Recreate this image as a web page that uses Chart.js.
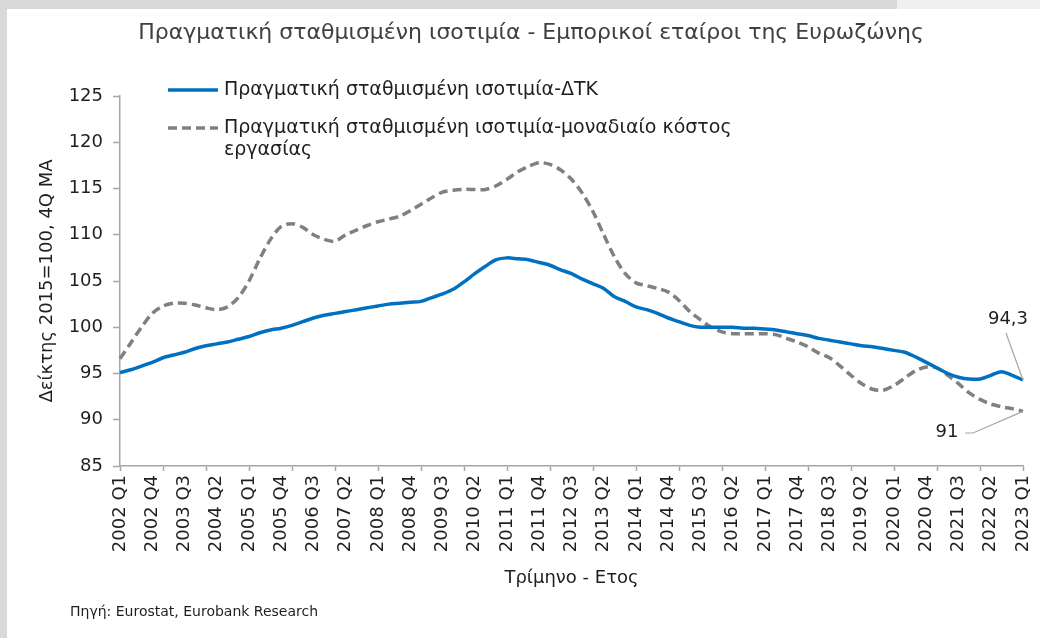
<!DOCTYPE html>
<html lang="el">
<head>
<meta charset="utf-8">
<title>Πραγματική σταθμισμένη ισοτιμία - Εμπορικοί εταίροι της Ευρωζώνης</title>
<script src="https://cdn.jsdelivr.net/npm/chart.js@4.4.1/dist/chart.umd.min.js"></script>
<style>
  html, body { margin: 0; padding: 0; background: #d9d9d9; }
  #wrap { position: relative; width: 1040px; height: 638px; }
</style>
</head>
<body>
<div id="wrap"><canvas id="reerChart" width="1040" height="638"></canvas></div>
<script>
// quarters 2002 Q1 .. 2023 Q1
const firstYear = 2002;
const lastYear = 2023;
const quarters = ['Q1', 'Q2', 'Q3', 'Q4'];
const categories = [];
for (let y = firstYear; y <= lastYear; y++) {
    for (const q of quarters) {
        if (y === lastYear && q !== 'Q1') break;
        categories.push(y + ' ' + q);
    }
}

const seriesNames = [
    'Πραγματική σταθμισμένη ισοτιμία-ΔΤΚ',
    'Πραγματική σταθμισμένη ισοτιμία-μοναδιαίο κόστος εργασίας'
];

// REER deflated by CPI
const reerCpi = [
    95.1, 95.4, 95.8, 96.2, 96.7, 97.0, 97.3, 97.7, 98.0, 98.2,
    98.4, 98.7, 99.0, 99.4, 99.7, 99.9, 100.2, 100.6, 101.0, 101.3,
    101.5, 101.7, 101.9, 102.1, 102.3, 102.5, 102.6, 102.7, 102.8, 103.2,
    103.6, 104.1, 104.9, 105.8, 106.6, 107.3, 107.5, 107.4, 107.3, 107.0,
    106.7, 106.2, 105.8, 105.2, 104.7, 104.2, 103.3, 102.8, 102.2, 101.9,
    101.5, 101.0, 100.6, 100.2, 100.0, 100.0, 100.0, 100.0, 99.9, 99.9,
    99.8, 99.7, 99.5, 99.3, 99.1, 98.8, 98.6, 98.4, 98.2, 98.0,
    97.9, 97.7, 97.5, 97.3, 96.8, 96.2, 95.6, 95.0, 94.6, 94.4,
    94.4, 94.8, 95.2, 94.8, 94.3
];

// REER deflated by unit labour cost
const reerUlc = [
    96.6, 98.3, 100.0, 101.5, 102.3, 102.6, 102.6, 102.4, 102.1, 101.9,
    102.2, 103.2, 105.0, 107.4, 109.5, 110.9, 111.2, 110.8, 110.0, 109.5,
    109.3, 110.0, 110.5, 111.0, 111.4, 111.7, 112.0, 112.6, 113.3, 114.0,
    114.6, 114.8, 114.9, 114.9, 114.9, 115.3, 116.0, 116.8, 117.4, 117.8,
    117.6, 117.0, 116.0, 114.5, 112.5, 110.0, 107.6, 105.8, 104.8, 104.5,
    104.2, 103.8, 102.9, 101.7, 100.8, 100.0, 99.5, 99.3, 99.3, 99.3,
    99.3, 99.2, 98.8, 98.4, 97.9, 97.2, 96.7, 95.8, 94.8, 93.9,
    93.3, 93.2, 93.7, 94.5, 95.3, 95.7, 95.6, 94.8, 93.9, 92.9,
    92.2, 91.7, 91.4, 91.2, 90.9
];

const yMin = 85;
const yMax = 125;
const yStep = 5;

const fontFamily = "'DejaVu Sans', 'Noto Sans', sans-serif";
const textColor = '#1f1f1f';
const axisColor = '#a6a6a6';
const blue = '#0070c0';
const grey = '#808080';

const pageBackground = {
    id: 'pageBackground',
    beforeDraw(chart) {
        const ctx = chart.ctx;
        ctx.save();
        ctx.fillStyle = '#d9d9d9';
        ctx.fillRect(0, 0, chart.width, chart.height);
        ctx.fillStyle = '#f0f0f0';
        ctx.fillRect(897, 0, chart.width - 897, 9);
        ctx.fillStyle = '#ffffff';
        ctx.fillRect(7, 9, chart.width - 7, chart.height - 9);
        ctx.restore();
    }
};

const chartText = {
    id: 'chartText',
    afterDraw(chart) {
        const ctx = chart.ctx;
        const xs = chart.scales.x;
        const ys = chart.scales.y;
        ctx.save();

        // title
        ctx.fillStyle = '#404040';
        ctx.font = '22px ' + fontFamily;
        ctx.textAlign = 'center';
        ctx.textBaseline = 'middle';
        ctx.fillText('Πραγματική σταθμισμένη ισοτιμία - Εμπορικοί εταίροι της Ευρωζώνης', 531, 33);

        // legend
        ctx.textAlign = 'left';
        ctx.fillStyle = textColor;
        ctx.font = '19px ' + fontFamily;
        ctx.lineWidth = 3.5;
        ctx.strokeStyle = blue;
        ctx.beginPath();
        ctx.moveTo(168, 90);
        ctx.lineTo(218, 90);
        ctx.stroke();
        ctx.fillText(seriesNames[0], 224, 90);

        ctx.strokeStyle = grey;
        ctx.setLineDash([9, 5]);
        ctx.beginPath();
        ctx.moveTo(168, 128);
        ctx.lineTo(218, 128);
        ctx.stroke();
        ctx.setLineDash([]);
        ctx.fillText('Πραγματική σταθμισμένη ισοτιμία-μοναδιαίο κόστος', 224, 128);
        ctx.fillText('εργασίας', 224, 150);

        // end-point labels
        const last = categories.length - 1;
        const bx = xs.getPixelForValue(last);
        const by = ys.getPixelForValue(reerCpi[last]);
        const gy = ys.getPixelForValue(reerUlc[last]);
        ctx.strokeStyle = '#a6a6a6';
        ctx.lineWidth = 1.2;
        ctx.beginPath();
        ctx.moveTo(1006, 333);
        ctx.lineTo(bx, by);
        ctx.stroke();
        ctx.beginPath();
        ctx.moveTo(965, 433);
        ctx.lineTo(973, 433);
        ctx.lineTo(bx, gy);
        ctx.stroke();

        ctx.fillStyle = textColor;
        ctx.font = '18px ' + fontFamily;
        ctx.textAlign = 'center';
        ctx.fillText(reerCpi[last].toFixed(1).replace('.', ','), 1008, 319);
        ctx.fillText(String(Math.round(reerUlc[last])), 947, 432);

        // source
        ctx.textAlign = 'left';
        ctx.font = '14px ' + fontFamily;
        ctx.fillText('Πηγή: Eurostat, Eurobank Research', 70, 612);
        ctx.restore();
    }
};

new Chart(document.getElementById('reerChart'), {
    type: 'line',
    data: {
        labels: categories,
        datasets: [{
            label: seriesNames[0],
            data: reerCpi,
            borderColor: blue,
            borderWidth: 3.5,
            pointRadius: 0,
            tension: 0.3,
            fill: false
        }, {
            label: seriesNames[1],
            data: reerUlc,
            borderColor: grey,
            borderWidth: 3.5,
            borderDash: [9, 5],
            pointRadius: 0,
            tension: 0.3,
            fill: false
        }]
    },
    options: {
        responsive: false,
        animation: false,
        layout: {
            padding: { left: 33, right: 17, top: 96, bottom: 45 }
        },
        plugins: {
            legend: { display: false },
            title: { display: false },
            tooltip: { enabled: false }
        },
        scales: {
            x: {
                grid: {
                    display: true,
                    drawOnChartArea: false,
                    tickLength: 5,
                    tickWidth: 1.5,
                    tickColor: (c) => (c.index % 4 === 0 ? axisColor : 'rgba(0,0,0,0)')
                },
                border: { color: axisColor, width: 1.5 },
                ticks: {
                    autoSkip: false,
                    minRotation: 90,
                    maxRotation: 90,
                    padding: 4,
                    color: textColor,
                    font: { family: fontFamily, size: 18 },
                    callback: (v, i) => (i % 3 === 0 ? categories[i] : '')
                },
                title: {
                    display: true,
                    text: 'Τρίμηνο - Ετος',
                    color: textColor,
                    font: { family: fontFamily, size: 18 },
                    padding: 4
                },
                afterFit: (s) => {
                    s.height = 127;
                    s.paddingLeft = 0;
                    s.paddingRight = 0;
                }
            },
            y: {
                min: yMin,
                max: yMax,
                grid: {
                    display: true,
                    drawOnChartArea: false,
                    tickLength: 7,
                    tickWidth: 1.5,
                    tickColor: axisColor
                },
                border: { color: axisColor, width: 1.5 },
                ticks: {
                    stepSize: yStep,
                    padding: 10,
                    color: textColor,
                    font: { family: fontFamily, size: 18 }
                },
                title: {
                    display: true,
                    text: 'Δείκτης 2015=100, 4Q MA',
                    color: textColor,
                    font: { family: fontFamily, size: 18 },
                    padding: 4
                },
                afterFit: (s) => { s.width = 87; }
            }
        }
    },
    plugins: [pageBackground, chartText]
});
</script>
</body>
</html>
